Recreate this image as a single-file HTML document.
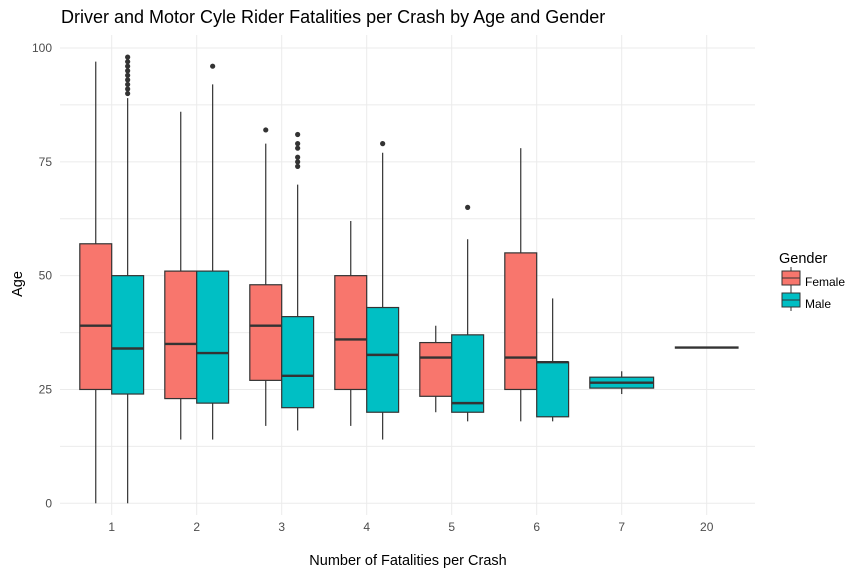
<!DOCTYPE html>
<html><head><meta charset="utf-8"><style>
body{margin:0;background:#fff}
svg{font-family:"Liberation Sans",sans-serif;display:block}
</style></head><body>
<svg id="chart" width="864" height="576">
<text x="61" y="23" font-size="18" fill="#000">Driver and Motor Cyle Rider Fatalities per Crash by Age and Gender</text>
<g id="grid"></g><g id="marks"></g><g id="axes"></g>
<text x="408" y="565" font-size="14.5" text-anchor="middle" fill="#000">Number of Fatalities per Crash</text>
<text transform="translate(22,284) rotate(-90)" font-size="14.5" text-anchor="middle" fill="#000">Age</text>
<g>
<text x="779" y="263" font-size="14.5" fill="#000">Gender</text>
<g>
<line x1="791" x2="791" y1="267" y2="289" stroke="#333"/>
<rect x="782" y="271" width="18" height="14" fill="#F8766D" stroke="#333"/>
<line x1="782" x2="800" y1="278" y2="278" stroke="#333"/>
<text x="805" y="286" font-size="12" fill="#000">Female</text></g>
<g>
<line x1="791" x2="791" y1="289" y2="311" stroke="#333"/>
<rect x="782" y="293" width="18" height="14" fill="#00BFC4" stroke="#333"/>
<line x1="782" x2="800" y1="300" y2="300" stroke="#333"/>
<text x="805" y="308" font-size="12" fill="#000">Male</text></g>
</g>
</svg>
<script>
const categories=["1","2","3","4","5","6","7","20"];
const yTicks=[0,25,50,75,100];
// [low, q1, median, q3, high] per category (null = absent)
const femaleStats=[[0,25,39,57,97],[14,23,35,51,86],[17,27,39,48,79],[17,25,36,50,62],[20,23.5,32,35.3,39],[18,25,32,55,78],null,null];
const maleStats=[[0,24,34,50,89],[14,22,33,51,92],[16,21,28,41,70],[14,20,32.6,43,77],[18,20,22,37,58],[18,19,31,31,45],null,null];
const femaleOutliers=[[],[],[82],[],[],[],[],[]];
const maleOutliers=[[90,91,92,93,94,95,96,97,98],[96],[74,75,76,78,79,81],[79],[65],[],[],[]];
// single-group categories (one full-width box)
const soloStats=[null,null,null,null,null,null,[24,25.3,26.5,27.7,29],[34.2,34.2,34.2,34.2,34.2]];
const soloGender=[null,null,null,null,null,null,"Male","Male"];

const NS="http://www.w3.org/2000/svg";
const L=60,R=755,T=35,B=515;
const y=v=>503.3-v*4.553;
const x=i=>111.7+i*85;
const bw=31.9;
function mk(tag,attrs,parent){const e=document.createElementNS(NS,tag);for(const k in attrs)e.setAttribute(k,attrs[k]);parent.appendChild(e);return e;}
const grid=document.getElementById('grid'),marks=document.getElementById('marks'),axes=document.getElementById('axes');
for(let v=0;v<=100;v+=12.5){const l=mk('line',{x1:L,x2:R,y1:y(v),y2:y(v),stroke:'#ebebeb','stroke-width':1},grid);

}
categories.forEach((c,i)=>{const l=mk('line',{x1:x(i),x2:x(i),y1:T,y2:B,stroke:'#ebebeb'},grid);


const t=mk('text',{x:x(i),y:531,'font-size':12,'text-anchor':'middle',fill:'#4d4d4d'},axes);t.textContent=c;

});
yTicks.forEach(v=>{const t=mk('text',{x:52,y:y(v)+4,'font-size':12,'text-anchor':'end',fill:'#4d4d4d'},axes);t.textContent=v;

});
function box(s,x0,w,fill,outs,name){
const g=mk('g',{},marks);


const cx=x0+w/2;
mk('line',{x1:cx,x2:cx,y1:y(s[0]),y2:y(s[1]),stroke:'#333','stroke-width':1.2},g);
mk('line',{x1:cx,x2:cx,y1:y(s[3]),y2:y(s[4]),stroke:'#333','stroke-width':1.2},g);
mk('rect',{x:x0,y:y(s[3]),width:w,height:Math.max(0,y(s[1])-y(s[3])),fill:fill,stroke:'#333','stroke-width':1.2},g);
mk('line',{x1:x0,x2:x0+w,y1:y(s[2]),y2:y(s[2]),stroke:'#333','stroke-width':2.4},g);
outs.forEach(o=>{const c=mk('circle',{cx:cx,cy:y(o),r:2.6,fill:'#333'},g);

});}
categories.forEach((c,i)=>{
if(femaleStats[i])box(femaleStats[i],x(i)-bw,bw,'#F8766D',femaleOutliers[i],'box-female-'+c);
if(maleStats[i])box(maleStats[i],x(i),bw,'#00BFC4',maleOutliers[i],'box-male-'+c);
if(soloStats[i])box(soloStats[i],x(i)-bw,bw*2,soloGender[i]==='Male'?'#00BFC4':'#F8766D',[],'box-solo-'+c);
});
</script>
</body></html>
